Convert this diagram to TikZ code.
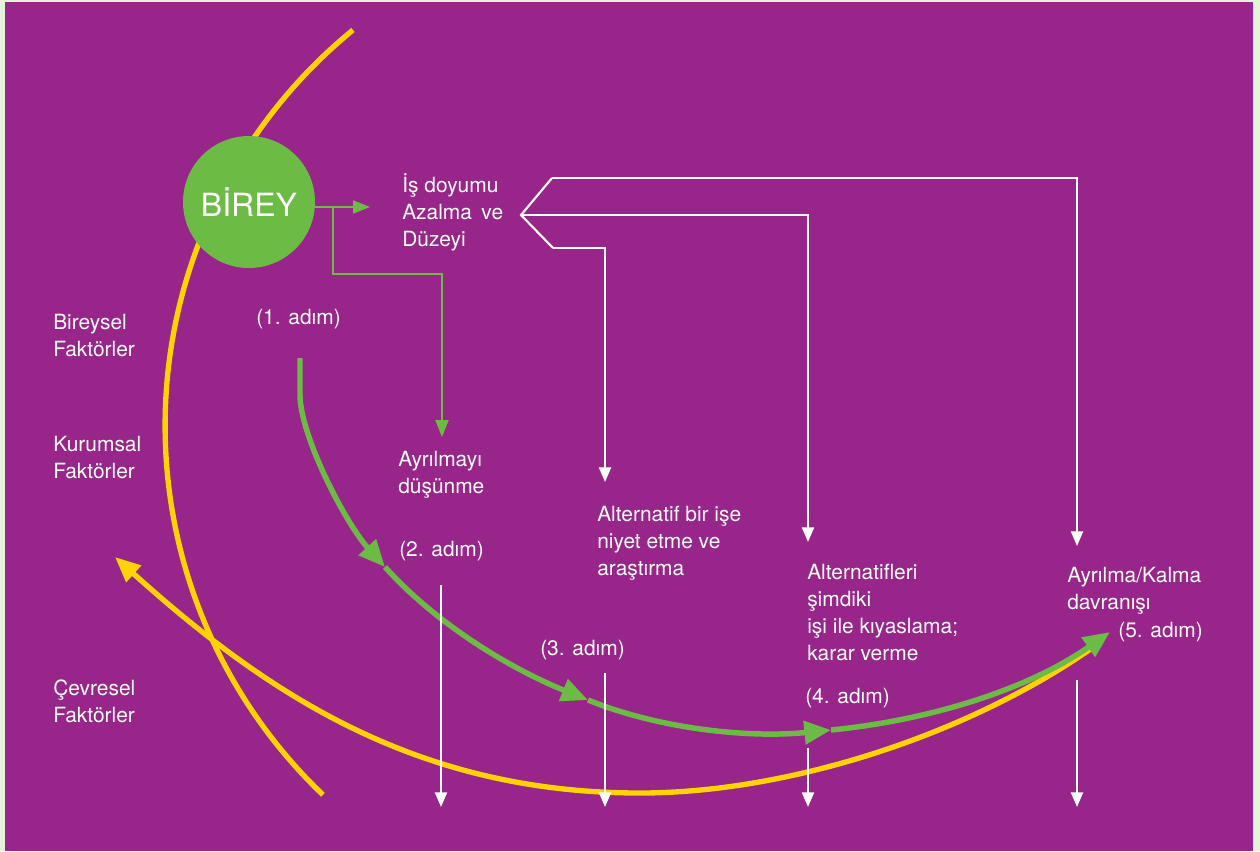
\documentclass[tikz,border=0pt]{standalone}
\usepackage{fontspec}
\setmainfont{TeX Gyre Heros}
\usetikzlibrary{arrows.meta}
\definecolor{bgpurple}{RGB}{152,37,138}
\definecolor{mygreen}{RGB}{108,187,69}
\definecolor{myyellow}{RGB}{255,210,0}
\definecolor{marginc}{RGB}{229,242,222}
\begin{document}
\begin{tikzpicture}[x=0.75pt,y=0.75pt,
  txt/.style={text=white, font=\fontsize{15.7}{20.25}\selectfont, inner sep=0pt, anchor=base west, align=left},
  yellowline/.style={draw=myyellow, line width=4pt},
  yellowarrow/.style={yellowline, -{Triangle[length=19pt,width=16pt]}},
  greenarrow/.style={draw=mygreen, line width=4.1pt, -{Triangle[length=20pt,width=17pt]}},
  thingreen/.style={draw=mygreen, line width=1.6pt, -{Triangle[length=12.75pt,width=9.75pt]}},
  whiteline/.style={draw=white, line width=1.6pt},
  whitearrow/.style={whiteline, -{Triangle[length=11pt,width=9pt]}},
  bireybox/.style={circle, fill=mygreen, minimum size=99pt, inner sep=0pt, text=white, font=\fontsize{24}{28}\selectfont}
]
\useasboundingbox (0,0) rectangle (1260,-851);
\fill[marginc] (0,0) rectangle (1260,-851);
\fill[bgpurple] (5,-2) rectangle (1253,-851);

% yellow curves
\draw[yellowline] (353,-30) arc[start angle=129.2, end angle=226.3, radius=382.95pt];
\coordinate (ya) at (1092,-648);
\coordinate (yb) at (640,-793);
\coordinate (yc) at (115,-557);
\draw[yellowarrow] (ya) .. controls (969,-734) and (790,-793) .. (yb)
   .. controls (420,-793) and (271,-697.5) .. (yc);

% BIREY
\node[bireybox] (birey) at (249,-202) {BİREY};

% green thick curve
\coordinate (g0) at (300,-358);
\coordinate (g1) at (300,-395);
\coordinate (g2) at (385,-567);
\coordinate (g3) at (588,-700);
\coordinate (g4) at (831,-730);
\coordinate (g5) at (1110,-632);
\draw[greenarrow] (g0) -- (g1) .. controls (300,-435) and (344.9,-522.4) .. (g2);
\draw[greenarrow] (g2) .. controls (438.5,-626.4) and (513.8,-670) .. (g3);
\draw[greenarrow] (g3) .. controls (662,-730) and (751.4,-737.9) .. (g4);
\draw[greenarrow] (g4) .. controls (930.5,-720.1) and (1028.1,-689.4) .. (g5);

% texts (anchor = baseline of last line)
\node[txt] (isd) at (402,-246) {İş doyumu\\Azalma\hspace{0.45em}ve\\Düzeyi};
\node[txt] (bir) at (53,-356) {Bireysel\\Faktörler};
\node[txt] (kur) at (53,-478) {Kurumsal\\Faktörler};
\node[txt] (cev) at (53,-722) {Çevresel\\Faktörler};
\node[txt] (a1) at (256,-324) {(1. adım)};
\node[txt] (ayr) at (398,-493) {Ayrılmayı\\düşünme};
\node[txt] (a2) at (399,-556) {(2. adım)};
\node[txt] (alt) at (597,-575) {Alternatif bir işe\\niyet etme ve\\araştırma};
\node[txt] (a3) at (540,-655) {(3. adım)};
\node[txt] (kiy) at (807,-660) {Alternatifleri\\şimdiki\\işi ile kıyaslama;\\karar verme};
\node[txt] (a4) at (805,-703) {(4. adım)};
\node[txt] (dav) at (1067,-609) {Ayrılma/Kalma\\davranışı};
\node[txt] (a5) at (1118,-637) {(5. adım)};

% thin green connectors
\coordinate (t0) at (315,-207);
\coordinate (t1) at (370,-207);
\coordinate (tb) at (333,-207);
\coordinate (tc) at (442,-274);
\coordinate (td) at (442,-437);
\draw[thingreen] (t0) -- (t1);
\draw[thingreen] (tb) |- (tc) -- (td);

% white bracket and arrows
\coordinate (b1) at (552,-178);
\coordinate (b0) at (521,-215);
\coordinate (b2) at (553,-248);
\coordinate (w3) at (605,-482);
\coordinate (w4) at (808,-542);
\coordinate (w5) at (1077,-546);
\draw[whiteline, line join=miter] (b1) -- (b0) -- (b2);
\draw[whitearrow] (b1) -| (w5);
\draw[whitearrow] (b0) -| (w4);
\draw[whitearrow] (b2) -| (w3);

% bottom white arrows
\coordinate (s1) at (441,-585);
\coordinate (e1) at (441,-807);
\coordinate (s2) at (605,-673);
\coordinate (e2) at (605,-807);
\coordinate (s3) at (808,-748);
\coordinate (e3) at (808,-807);
\coordinate (s4) at (1077,-680);
\coordinate (e4) at (1077,-807);
\draw[whitearrow] (s1) -- (e1);
\draw[whitearrow] (s2) -- (e2);
\draw[whitearrow] (s3) -- (e3);
\draw[whitearrow] (s4) -- (e4);
\end{tikzpicture}
\end{document}
